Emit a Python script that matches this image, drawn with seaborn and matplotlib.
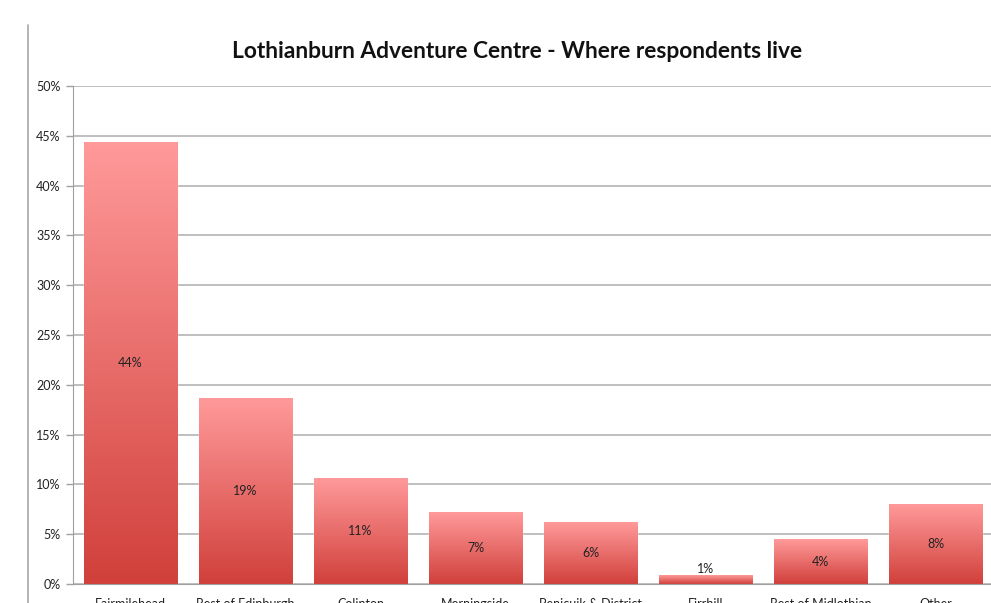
"""
Lothianburn Adventure Centre - where respondents live
Bar chart with gradient-filled bars
"""

import numpy as np
import pandas as pd
import matplotlib
matplotlib.use("Agg")
import matplotlib.pyplot as plt
from matplotlib.colors import LinearSegmentedColormap
from matplotlib.lines import Line2D
from matplotlib.ticker import FuncFormatter, FixedLocator
import seaborn as sns

# Data
areas = ["Fairmilehead", "Rest of Edinburgh", "Colinton", "Morningside",
         "Penicuik & District", "Firrhill", "Rest of Midlothian", "Other"]
share = [44.4, 18.7, 10.6, 7.2, 6.2, 0.9, 4.5, 8.0]
labels = ["44%", "19%", "11%", "7%", "6%", "1%", "4%", "8%"]

TITLE = "Lothianburn Adventure Centre - Where respondents live"

sns.set_style("white")
plt.rcParams["font.family"] = ["Lato", "DejaVu Sans"]

df = pd.DataFrame({"area": areas, "share": share})

fig = plt.figure(figsize=(9.91, 6.03), dpi=100)
ax = fig.add_axes([73 / 991, 19 / 603, 920 / 991, 498 / 603])

sns.barplot(data=df, x="area", y="share", color="#e06060", width=0.81,
            saturation=1, ax=ax)

# Gradient fill, light at top, dark at bottom of each bar
cmap = LinearSegmentedColormap.from_list("bar", ["#d1403b", "#ff9a9a"])
grad = np.linspace(0, 1, 256).reshape(-1, 1)
for patch in ax.patches:
    x0, y0 = patch.get_x(), patch.get_y()
    w, h = patch.get_width(), patch.get_height()
    img = ax.imshow(grad, cmap=cmap, origin="lower", aspect="auto",
                    extent=(x0, x0 + w, y0, y0 + h), zorder=2)
    img.set_clip_path(patch)
    patch.set_zorder(2)

# Value labels
for i, (v, lab) in enumerate(zip(share, labels)):
    ax.text(i, max(v / 2, 1.5), lab, ha="center", va="center",
            fontsize=9, color="#222222", zorder=3)

ax.set_xlim(-0.5, len(areas) - 0.5)
ax.set_ylim(0, 50)
ax.set_yticks(np.arange(0, 51, 5))
ax.yaxis.set_major_formatter(FuncFormatter(lambda v, p: f"{v:.0f}%"))
ax.grid(axis="y", color="#b4b4b4", linewidth=1.2, zorder=0)
ax.set_axisbelow(True)

# category labels centred, tick marks between bars
ax.set_xticks(range(len(areas)))
ax.set_xticklabels(areas, fontsize=9, color="#222222")
ax.tick_params(axis="x", length=0, pad=10)
ax.xaxis.set_minor_locator(FixedLocator(np.arange(-0.5, len(areas), 1)))
ax.tick_params(axis="x", which="minor", length=5, color="#a0a0a0", width=1)
ax.tick_params(axis="y", length=5, color="#a0a0a0", width=1,
               labelsize=9, labelcolor="#222222", pad=4, left=True)

ax.set_xlabel("")
ax.set_ylabel("")
for s in ["top", "right"]:
    ax.spines[s].set_visible(False)
ax.spines["left"].set_color("#a0a0a0")
ax.spines["bottom"].set_color("#a0a0a0")

# chart frame edge on the left
fig.add_artist(Line2D([28 / 991, 28 / 991], [0, 1 - 25 / 603],
                      transform=fig.transFigure, color="#a8a8a8", linewidth=1.2))

fig.text(517 / 991, 1 - 52 / 603, TITLE, ha="center", va="center",
         fontsize=16.4, fontweight="bold", color="#111111")

fig.savefig("out.png", dpi=100)
